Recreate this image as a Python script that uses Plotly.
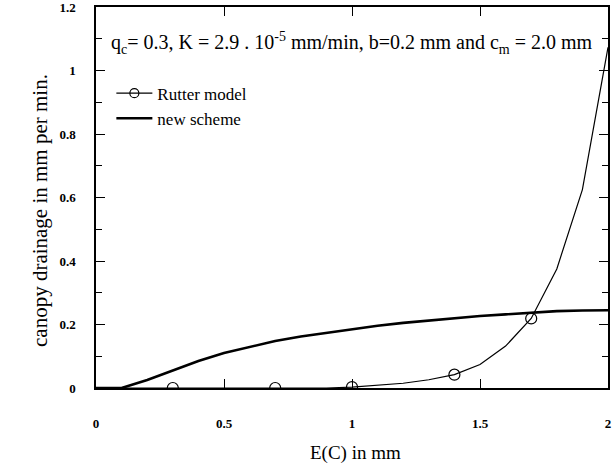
import plotly.graph_objects as go

# Rutter model curve
rutter_x = [0.1, 0.3, 0.5, 0.7, 0.9, 1.0, 1.1, 1.2, 1.3, 1.4, 1.5, 1.6, 1.7, 1.8, 1.9, 2.0]
rutter_y = [0.0, 0.0, 0.0, 0.0, 0.0, 0.003, 0.008, 0.015, 0.026, 0.042, 0.074, 0.132, 0.219, 0.375, 0.625, 1.073]
rutter_marked = [False, True, False, True, False, True, False, False, False, True, False, False, True, False, False, False]

# New scheme curve
new_x = [0.0, 0.1, 0.2, 0.3, 0.4, 0.5, 0.6, 0.7, 0.8, 0.9, 1.0, 1.1, 1.2, 1.3, 1.4, 1.5, 1.6, 1.7, 1.8, 1.9, 2.0]
new_y = [0.0, 0.0, 0.025, 0.055, 0.085, 0.11, 0.13, 0.148, 0.162, 0.174, 0.185, 0.196, 0.205, 0.213, 0.219, 0.227, 0.232, 0.237, 0.242, 0.244, 0.245]

x_ticks = [0, 0.5, 1, 1.5, 2]
x_tick_labels = ["0", "0.5", "1", "1.5", "2"]
y_ticks = [0, 0.2, 0.4, 0.6, 0.8, 1.0, 1.2]
y_tick_labels = ["0", "0.2", "0.4", "0.6", "0.8", "1", "1.2"]

serif = "Liberation Serif, Times New Roman, serif"

fig = go.Figure()
fig.add_trace(go.Scatter(x=rutter_x, y=rutter_y, mode="lines", cliponaxis=False,
                         line=dict(color="black", width=1.2), showlegend=False))
fig.add_trace(go.Scatter(x=[x for x, m in zip(rutter_x, rutter_marked) if m],
                         y=[y for y, m in zip(rutter_y, rutter_marked) if m],
                         mode="markers",
                         marker=dict(symbol="circle-open", size=11, color="black", line=dict(width=1.2)),
                         showlegend=False))
fig.add_trace(go.Scatter(x=[None], y=[None], mode="lines+markers", name="Rutter model",
                         line=dict(color="black", width=1.2),
                         marker=dict(symbol="circle-open", size=9, color="black", line=dict(width=1.2))))
fig.add_trace(go.Scatter(x=new_x, y=new_y, mode="lines", name="new scheme",
                         line=dict(color="black", width=2.6)))

axis_common = dict(showline=True, linecolor="black", linewidth=1.5, mirror="ticks",
                   ticks="inside", tickcolor="black", showgrid=False, zeroline=False,
                   automargin=False, layer="above traces", ticklabeloverflow="allow",
                   tickfont=dict(family=serif, size=13, color="black", weight="bold"))

fig.update_xaxes(range=[0, 2], tickvals=x_ticks, ticktext=x_tick_labels, ticklen=9,
                 ticklabelstandoff=23, **axis_common)
fig.update_yaxes(range=[0, 1.2], tickvals=y_ticks, ticktext=y_tick_labels, ticklen=9,
                 ticklabelstandoff=16,
                 minor=dict(ticks="inside", dtick=0.1, ticklen=6, tickcolor="black", showgrid=False),
                 **axis_common)

# axis titles placed as paper annotations
fig.add_annotation(x=(355 - 96) / 512, y=-(453 - 388) / 381, xref="paper", yref="paper", showarrow=False,
                   text="E(C) in mm", font=dict(family=serif, size=19, color="black"),
                   xanchor="center", yanchor="middle")
fig.add_annotation(x=-(96 - 40) / 512, y=(388 - 211) / 381, xref="paper", yref="paper", showarrow=False,
                   text="canopy drainage in mm per min.", textangle=-90,
                   font=dict(family=serif, size=21, color="black"),
                   xanchor="center", yanchor="middle")

fig.add_annotation(x=0.5, y=0.905, xref="paper", yref="paper", showarrow=False,
                   text="q<sub>c</sub>= 0.3, K = 2.9 . 10<sup>-5</sup> mm/min, b=0.2 mm and c<sub>m</sub> = 2.0 mm",
                   font=dict(family=serif, size=20, color="black"), xanchor="center", yanchor="middle")

fig.update_layout(width=615, height=468, margin=dict(l=96, r=7, t=7, b=80),
                  plot_bgcolor="white", paper_bgcolor="white",
                  legend=dict(x=0.03, y=0.82, xanchor="left", yanchor="top",
                              bgcolor="rgba(0,0,0,0)", font=dict(family=serif, size=17, color="black"),
                              tracegroupgap=0, itemwidth=36))

fig.write_html("out.html", config={"displayModeBar": False},
               post_script="document.body.style.margin='0px';")
